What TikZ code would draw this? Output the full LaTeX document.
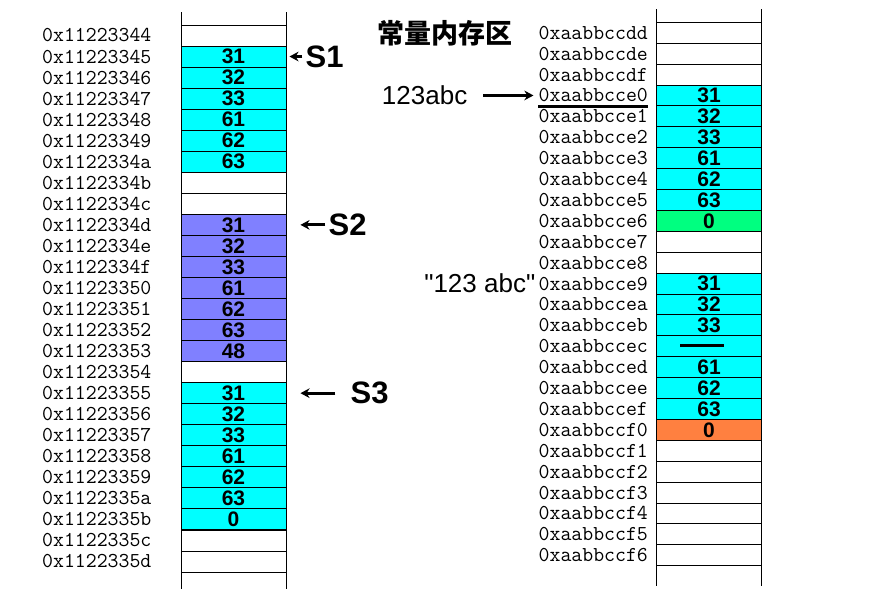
\documentclass[tikz,border=0pt]{standalone}
\usepackage{fontspec}
\usetikzlibrary{arrows.meta,positioning}
\newfontfamily\cjk{Noto Sans CJK SC}
\newfontfamily\hand{Liberation Sans}
\definecolor{cellcyan}{HTML}{00FFFF}
\definecolor{cellblue}{HTML}{8080FF}
\definecolor{cellgreen}{HTML}{00FF80}
\definecolor{cellorange}{HTML}{FF8040}
\tikzset{
  cell/.style={draw, line width=0.9pt, minimum width=105pt, minimum height=21pt, inner sep=0pt, font=\hand\bfseries\fontsize{21}{21}\selectfont},
  addr/.style={inner sep=0pt, font=\ttfamily\fontsize{21.2}{21}\selectfont},
  big/.style={inner sep=0pt, font=\hand\fontsize{26}{26}\selectfont},
  slabel/.style={inner sep=0pt, font=\hand\bfseries\fontsize{31}{31}\selectfont},
  ptr/.style={-{Stealth[length=3.2mm,width=3.4mm]}, line width=2.8pt}
}

\begin{document}
\begin{tikzpicture}[x=1pt,y=-1pt]
  \useasboundingbox (0,0) rectangle (876,597);
  % left column: stack
  \draw[line width=0.9pt] (181,12) -- (181,589) (286,12) -- (286,589);
  \foreach \i/\a/\v/\c in {0/44//white,1/45/31/cellcyan,2/46/32/cellcyan,3/47/33/cellcyan,
      4/48/61/cellcyan,5/49/62/cellcyan,6/4a/63/cellcyan,7/4b//white,8/4c//white,
      9/4d/31/cellblue,10/4e/32/cellblue,11/4f/33/cellblue,12/50/61/cellblue,13/51/62/cellblue,
      14/52/63/cellblue,15/53/48/cellblue,16/54//white,17/55/31/cellcyan,18/56/32/cellcyan,
      19/57/33/cellcyan,20/58/61/cellcyan,21/59/62/cellcyan,22/5a/63/cellcyan,23/5b/0/cellcyan,
      24/5c//white,25/5d//white} {
    \node[cell, fill=\c] (l\i) at (233.5,{35.5+21.04*\i}) {\v};
    \node[addr, left=29pt of l\i] (la\i) {0x112233\a};
  }
  % right column: constant area
  \draw[line width=0.9pt] (656.5,9) -- (656.5,586) (761.5,9) -- (761.5,586);
  \foreach \i/\a/\v/\c in {0/dd//white,1/de//white,2/df//white,3/e0/31/cellcyan,4/e1/32/cellcyan,
      5/e2/33/cellcyan,6/e3/61/cellcyan,7/e4/62/cellcyan,8/e5/63/cellcyan,9/e6/0/cellgreen,
      10/e7//white,11/e8//white,12/e9/31/cellcyan,13/ea/32/cellcyan,14/eb/33/cellcyan,
      15/ec//cellcyan,16/ed/61/cellcyan,17/ee/62/cellcyan,18/ef/63/cellcyan,19/f0/0/cellorange,
      20/f1//white,21/f2//white,22/f3//white,23/f4//white,24/f5//white,25/f6//white} {
    \node[cell, fill=\c, minimum height=20.9pt] (r\i) at (709,{32.75+20.9*\i}) {\v};
    \node[addr, left=8pt of r\i] (ra\i) {0xaabbcc\a};
  }
  \draw[line width=2.5pt] ([xshift=-29pt,yshift=1pt]r15.center) -- ([xshift=15pt,yshift=1pt]r15.center);
  % titles and pointers
  \node[inner sep=0pt, font=\cjk\bfseries\fontsize{27}{27}\selectfont] (title) at (445,33) {常量内存区};
  \node[big, left=71pt of ra3] (str1) {123abc};
  \node[big, left=3pt of ra12] (str2) {"123 abc"};
  \draw[ptr, shorten <=16pt, shorten >=5pt] (str1.east) -- (ra3.west);
  \draw[line width=2.8pt] ([yshift=-4pt]ra3.south west) -- ([yshift=-4pt]ra3.south east);
  \node[slabel, right=19pt of l1] (s1) {S1};
  \node[slabel, right=42pt of l9] (s2) {S2};
  \node[slabel, right=64pt of l17] (s3) {S3};
  \draw[ptr, shorten <=3pt, shorten >=3pt] (s1.west) -- (l1.east);
  \draw[ptr, shorten <=3pt, shorten >=14pt] (s2.west) -- (l9.east);
  \draw[ptr, shorten <=15pt, shorten >=14pt] (s3.west) -- (l17.east);
\end{tikzpicture}
\end{document}
